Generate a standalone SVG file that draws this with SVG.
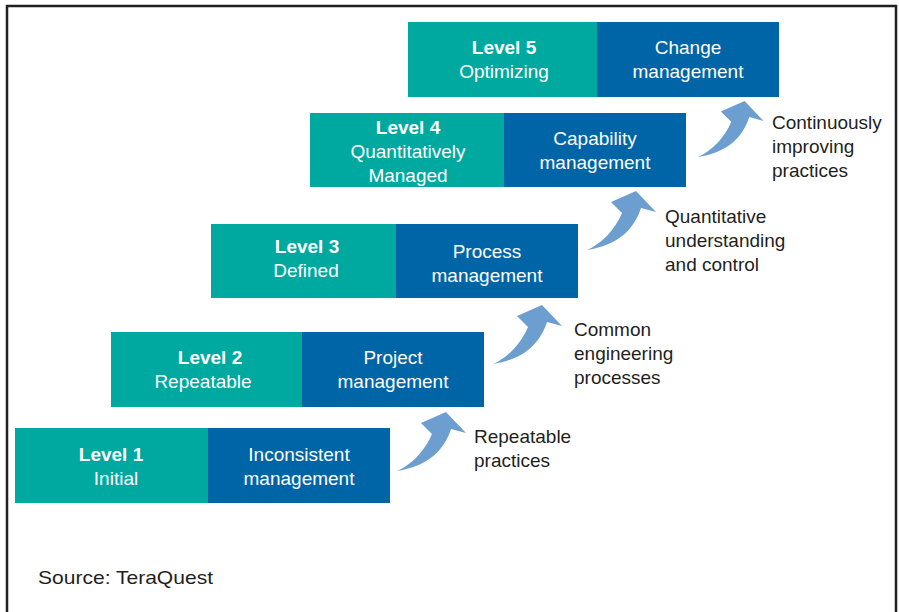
<svg xmlns="http://www.w3.org/2000/svg" width="899" height="612" viewBox="0 0 899 612">
<style>
.teal{fill:#00a99f}
.blue{fill:#0065a6}
.t{font-family:"Liberation Sans",Arial,sans-serif;font-size:19px;fill:#fff;text-anchor:middle}
.b{font-weight:bold}
.lbl{font-family:"Liberation Sans",Arial,sans-serif;font-size:19px;fill:#231f20}
.arr{fill:#6c9fd0}
</style>
<defs>
<path id="arrow" d="M0,0 C14,-6 28,-20 35,-37 L24,-48 L49,-59 L69,-38 L54,-42 C47,-21 32,-5 0,0 Z"/>
</defs>
<rect x="0" y="0" width="899" height="612" fill="#fff"/>
<path d="M7,615 V6 H896 V615" fill="none" stroke="#231f20" stroke-width="2.5"/>

<g id="level1">
<rect class="teal" x="15" y="428" width="193" height="75"/>
<rect class="blue" x="208" y="428" width="182" height="75"/>
<text class="t b" x="111" y="461">Level 1</text>
<text class="t" x="116" y="485">Initial</text>
<text class="t" x="299" y="461">Inconsistent</text>
<text class="t" x="299" y="485">management</text>
</g>
<g id="level2">
<rect class="teal" x="111" y="332" width="191" height="75"/>
<rect class="blue" x="302" y="332" width="182" height="75"/>
<text class="t b" x="210" y="364">Level 2</text>
<text class="t" x="203" y="388">Repeatable</text>
<text class="t" x="393" y="364">Project</text>
<text class="t" x="393" y="388">management</text>
</g>
<g id="level3">
<rect class="teal" x="211" y="224" width="185" height="74"/>
<rect class="blue" x="396" y="224" width="182" height="74"/>
<text class="t b" x="307" y="253">Level 3</text>
<text class="t" x="306" y="277">Defined</text>
<text class="t" x="487" y="258">Process</text>
<text class="t" x="487" y="282">management</text>
</g>
<g id="level4">
<rect class="teal" x="310" y="113" width="194" height="74"/>
<rect class="blue" x="504" y="113" width="182" height="74"/>
<text class="t b" x="408" y="134">Level 4</text>
<text class="t" x="408" y="158">Quantitatively</text>
<text class="t" x="408" y="182">Managed</text>
<text class="t" x="595" y="145">Capability</text>
<text class="t" x="595" y="169">management</text>
</g>
<g id="level5">
<rect class="teal" x="408" y="22" width="189" height="75"/>
<rect class="blue" x="597" y="22" width="182" height="75"/>
<text class="t b" x="504" y="54">Level 5</text>
<text class="t" x="504" y="78">Optimizing</text>
<text class="t" x="688" y="54">Change</text>
<text class="t" x="688" y="78">management</text>
</g>

<g id="connectors">
<use href="#arrow" class="arr" transform="translate(397,471)"/>
<use href="#arrow" class="arr" transform="translate(493,364)"/>
<use href="#arrow" class="arr" transform="translate(587,250)"/>
<use href="#arrow" class="arr" transform="translate(698,157) scale(0.95)"/>
</g>

<g id="labels">
<text class="lbl" x="474" y="443">Repeatable</text>
<text class="lbl" x="474" y="467">practices</text>
<text class="lbl" x="574" y="336">Common</text>
<text class="lbl" x="574" y="360">engineering</text>
<text class="lbl" x="574" y="384">processes</text>
<text class="lbl" x="665" y="223">Quantitative</text>
<text class="lbl" x="665" y="247">understanding</text>
<text class="lbl" x="665" y="271">and control</text>
<text class="lbl" x="772" y="129">Continuously</text>
<text class="lbl" x="772" y="153">improving</text>
<text class="lbl" x="772" y="177">practices</text>
<text class="lbl" x="38" y="584" textLength="175" lengthAdjust="spacingAndGlyphs">Source: TeraQuest</text>
</g>
</svg>
